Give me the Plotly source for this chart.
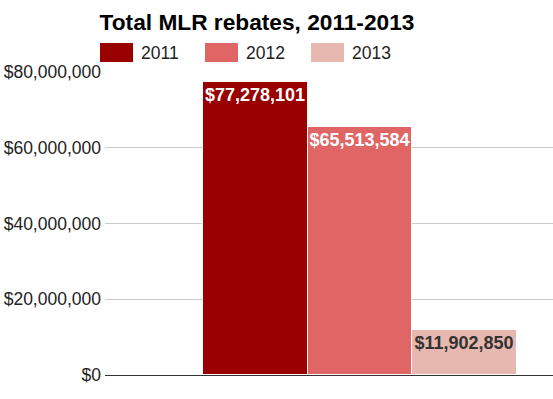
import plotly.graph_objects as go

years = ["2011", "2012", "2013"]
rebates = [77278101, 65513584, 11902850]
colors = ["#990000", "#e06666", "#e6b8af"]
label_colors = ["#ffffff", "#ffffff", "#333333"]
y_ticks = [0, 20000000, 40000000, 60000000, 80000000]
y_tick_labels = ["$0", "$20,000,000", "$40,000,000", "$60,000,000", "$80,000,000"]

FONT = "Liberation Sans, Arial, sans-serif"

fig = go.Figure()
for yr, val, col, lc in zip(years, rebates, colors, label_colors):
    fig.add_trace(go.Bar(
        x=[0], y=[val], name=yr,
        marker=dict(color=col, line=dict(color="white", width=1)),
        text=[f"${val:,.0f}"], textposition="inside", insidetextanchor="end",
        textfont=dict(family=FONT, size=18, color=lc, weight="bold"),
        textangle=0, showlegend=False, hoverinfo="skip",
    ))

# custom legend (swatches + labels)
leg_x = [100, 205, 311]
for i, (yr, col) in enumerate(zip(years, colors)):
    fig.add_shape(type="rect", xref="paper", yref="paper",
                  x0=(leg_x[i] - 105) / 448, x1=(leg_x[i] + 33 - 105) / 448,
                  y0=(375 - 62) / 303, y1=(375 - 43) / 303,
                  fillcolor=col, line=dict(width=0))
    fig.add_annotation(text=yr, xref="paper", yref="paper",
                       x=(leg_x[i] + 39 - 105) / 448, y=(375 - 53) / 303,
                       xanchor="left", yanchor="middle", showarrow=False,
                       font=dict(family=FONT, size=17.5, color="#222222"))

fig.update_layout(
    width=553, height=399,
    margin=dict(l=105, r=0, t=72, b=24),
    paper_bgcolor="white", plot_bgcolor="white",
    barmode="group", bargap=0, bargroupgap=0,
    uniformtext=dict(minsize=18, mode="show"),
    title=dict(text="<b>Total MLR rebates, 2011-2013</b>", x=257 / 553, xanchor="center",
               y=1 - 22 / 399, yanchor="middle",
               font=dict(family=FONT, size=22.7, color="#000000")),
    xaxis=dict(range=[-0.812, 0.615], showticklabels=False, showgrid=False,
               zeroline=False, ticks="", fixedrange=True),
    yaxis=dict(range=[0, 80000000], tickvals=y_ticks, ticktext=y_tick_labels,
               showgrid=True, gridcolor="#cccccc", gridwidth=1,
               zeroline=True, zerolinecolor="#333333", zerolinewidth=1,
               tickfont=dict(family=FONT, size=17.5, color="#222222"),
               ticks="", ticklen=0, ticklabelstandoff=3, fixedrange=True),
    font=dict(family=FONT),
)

fig.write_html("out.html", config={"displayModeBar": False},
               post_script="document.body.style.margin='0';")
